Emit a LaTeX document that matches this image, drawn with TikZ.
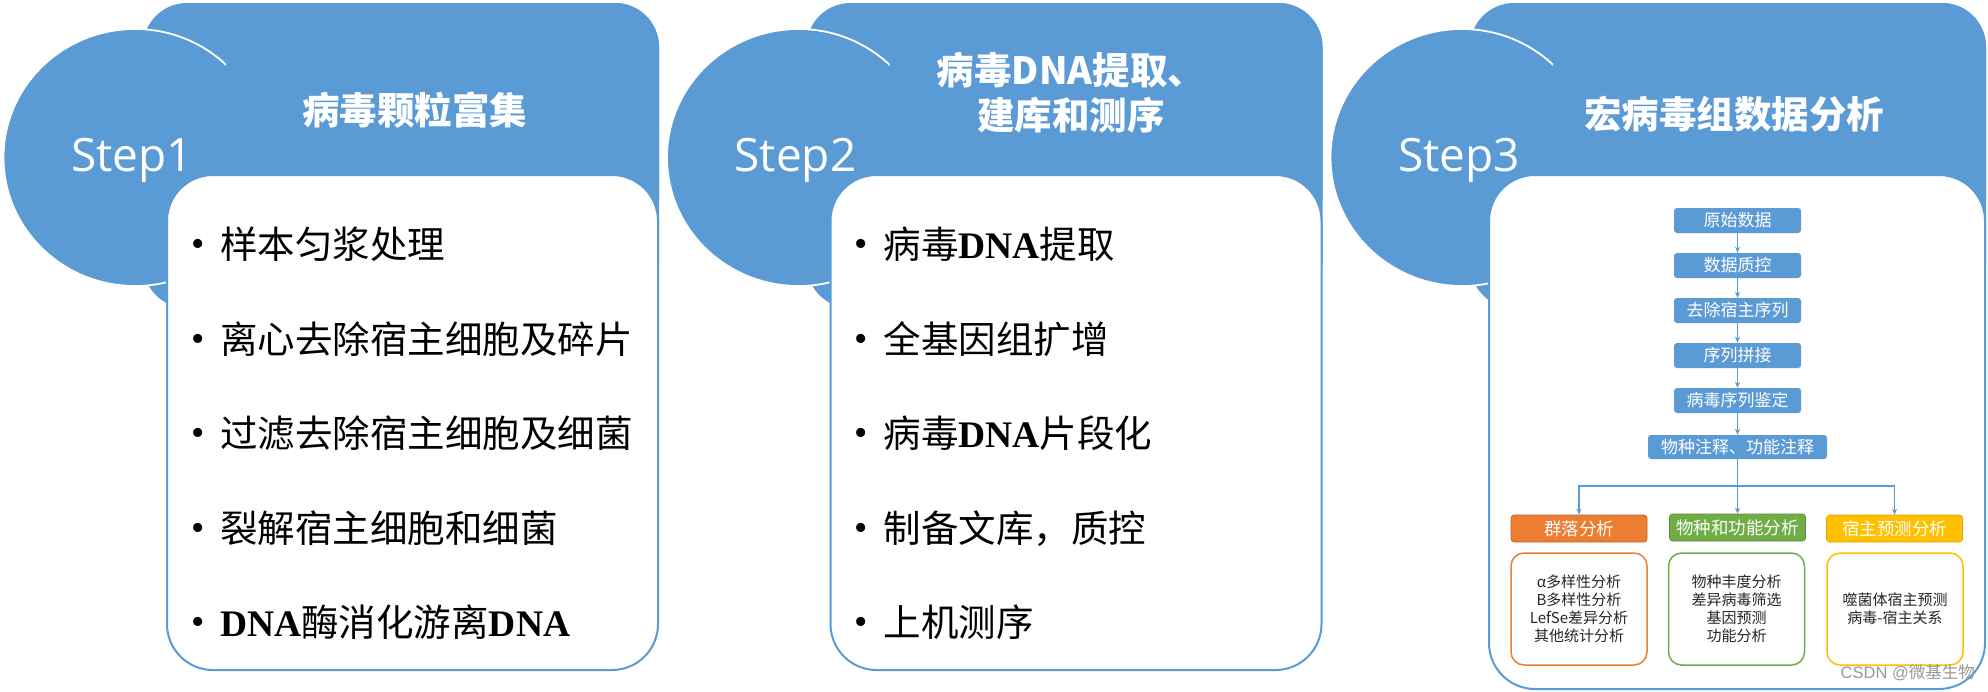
\documentclass[tikz,border=0pt]{standalone}
\usepackage{fontspec}
\setmainfont{Liberation Serif}
\newfontfamily\cjk{Noto Sans CJK SC}
\newfontfamily\stepfont{Open Sans}
\newfontfamily\wmfont{Liberation Sans}
\usetikzlibrary{shapes.geometric,arrows.meta}
\definecolor{cblue}{HTML}{5B9BD5}
\definecolor{corange}{HTML}{ED7D31}
\definecolor{cgreen}{HTML}{70AD47}
\definecolor{cgold}{HTML}{FFC000}
\newcommand{\fsz}[2]{\fontsize{#1}{#2}\selectfont}
\newcommand{\dna}{{\rmfamily\bfseries DNA}}
\begin{document}
\begin{tikzpicture}[x=1pt,y=-1pt,
  header/.style={fill=cblue, rounded corners=44pt, minimum width=516pt, minimum height=305pt, inner sep=0pt},
  stepdisc/.style={ellipse, fill=cblue, draw=white, line width=1.8pt, minimum width=263pt, minimum height=257pt, inner sep=0pt},
  card/.style={draw=cblue, fill=white, line width=2pt, rounded corners=46pt, inner sep=0pt},
  steptext/.style={text=white, font=\stepfont\fsz{46}{52}, anchor=base, inner sep=0pt},
  titletext/.style={text=white, font=\cjk\bfseries\fsz{37.5}{45}, align=center, inner sep=0pt},
  bulletdot/.style={font=\rmfamily\fsz{38}{40}, inner sep=0pt},
  itemtext/.style={font=\cjk\fsz{37.5}{45}, anchor=base west, inner sep=0pt},
  flowbox/.style={fill=cblue, rounded corners=3pt, text=white, font=\cjk\fsz{17}{20}, minimum height=25pt, inner sep=0pt},
  flowarrow/.style={draw=cblue, line width=1.5pt, -{Stealth[length=6pt,width=5pt]}},
  catbox/.style={rounded corners=3pt, text=white, font=\cjk\fsz{17.5}{20}, minimum width=136pt, minimum height=27pt, inner sep=0pt},
  detailbox/.style={rounded corners=13pt, fill=white, line width=1.5pt, font=\cjk\fsz{15}{18}, text=black!85, align=center, minimum width=136pt, minimum height=112pt, inner sep=0pt}
]
\useasboundingbox (0,0) rectangle (1988,691);
\fill[white] (0,0) rectangle (1988,691);

% headers, step discs and overlay
\foreach \o/\i in {0/1, 663.5/2, 1327/3}{
  \node[header] (head\i) at (401+\o,155.5) {};
  \node[stepdisc] (disc\i) at (135+\o,157.5) {};
  \begin{scope}
    \clip (226+\o,0) rectangle (700+\o,200);
    \node[header] (headov\i) at (401+\o,155.5) {};
  \end{scope}
  \node[steptext] (step\i) at (132+\o,171) {Step\i};
}

% white cards
\node[card, minimum width=491pt, minimum height=495pt] (card1) at (412.5,422.5) {};
\node[card, minimum width=491pt, minimum height=495pt] (card2) at (1076,422.5) {};
\node[card, minimum width=496pt, minimum height=514pt] (card3) at (1737,432) {};

% titles
\node[titletext] (title1) at (414.5,110) {病毒颗粒富集};
\node[titletext] (title2) at (1071,92.5) {病毒DNA提取、\\建库和测序};
\node[titletext] (title3) at (1734,114.5) {宏病毒组数据分析};

% bullets
\foreach \r/\k in {245/1, 339.5/2, 434/3, 528.5/4, 623/5}{
  \node[bulletdot] (p1b\k) at (198,\r+3) {•};
  \node[bulletdot] (p2b\k) at (861.5,\r+3) {•};
}
% panel 1 items
\node[itemtext] (p1i1) at (220,258.5) {样本匀浆处理};
\node[itemtext] (p1i2) at (220,353) {离心去除宿主细胞及碎片};
\node[itemtext] (p1i3) at (220,447.5) {过滤去除宿主细胞及细菌};
\node[itemtext] (p1i4) at (220,542) {裂解宿主细胞和细菌};
\node[itemtext] (p1i5) at (220,636.5) {\dna 酶消化游离\dna};

% panel 2 items
\node[itemtext] (p2i1) at (883.5,258.5) {病毒\dna 提取};
\node[itemtext] (p2i2) at (883.5,353) {全基因组扩增};
\node[itemtext] (p2i3) at (883.5,447.5) {病毒\dna 片段化};
\node[itemtext] (p2i4) at (883.5,542) {制备文库，质控};
\node[itemtext] (p2i5) at (883.5,636.5) {上机测序};

% panel 3 flow chart
\node[flowbox, minimum width=127pt] (f1) at (1737.5,220.5) {原始数据};
\node[flowbox, minimum width=127pt] (f2) at (1737.5,265.5) {数据质控};
\node[flowbox, minimum width=127pt] (f3) at (1737.5,310.5) {去除宿主序列};
\node[flowbox, minimum width=127pt] (f4) at (1737.5,355.5) {序列拼接};
\node[flowbox, minimum width=127pt] (f5) at (1737.5,400.5) {病毒序列鉴定};
\node[flowbox, minimum width=179pt, minimum height=24pt] (f6) at (1737.5,447) {物种注释、功能注释};
\draw[flowarrow] (f1) -- (f2);
\draw[flowarrow] (f2) -- (f3);
\draw[flowarrow] (f3) -- (f4);
\draw[flowarrow] (f4) -- (f5);
\draw[flowarrow] (f5) -- (f6);

\node[catbox, fill=corange, draw=corange!80!black, line width=0.6pt] (c1) at (1579,528.5) {群落分析};
\node[catbox, fill=cgreen, draw=cgreen!80!black, line width=0.6pt] (c2) at (1737.5,527.5) {物种和功能分析};
\node[catbox, fill=cgold, draw=cgold!85!black, line width=0.6pt] (c3) at (1894.5,528.5) {宿主预测分析};

\coordinate (split) at (1737.5,486);
\draw[flowarrow] (f6) -- (c2);
\draw[flowarrow] (split) -| (c1);
\draw[flowarrow] (split) -| (c3);

\node[detailbox, draw=corange] (d1) at (1579,609) {α多样性分析\\B多样性分析\\LefSe差异分析\\其他统计分析};
\node[detailbox, draw=cgreen] (d2) at (1736.5,609) {物种丰度分析\\差异病毒筛选\\基因预测\\功能分析};
\node[detailbox, draw=cgold] (d3) at (1895,609) {噬菌体宿主预测\\病毒-宿主关系};

\node[font=\wmfont\fsz{16.5}{18}, text=black!40, anchor=east, inner sep=0pt] (wm) at (1975,673) {CSDN @{\cjk 微基生物}};
\end{tikzpicture}
\end{document}
